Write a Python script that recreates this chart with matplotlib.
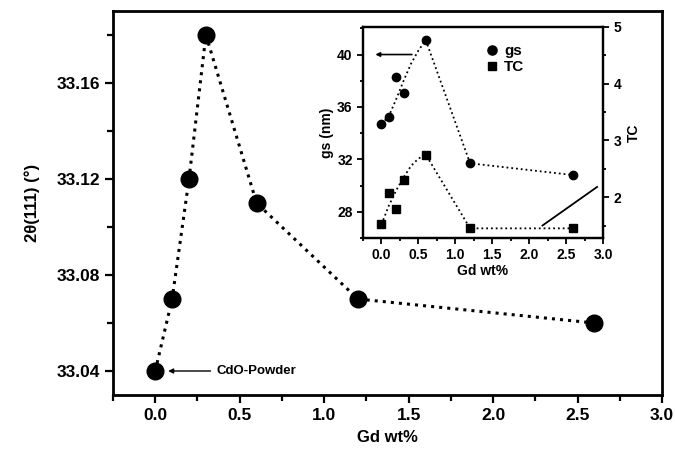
import matplotlib.pyplot as plt
import numpy as np
from matplotlib.ticker import MultipleLocator

plt.rcParams['font.family'] = ['Liberation Sans', 'DejaVu Sans']
plt.rcParams['font.weight'] = 'bold'

# main panel: 2theta(111) vs Gd content
gd = [0.0, 0.1, 0.2, 0.3, 0.6, 1.2, 2.6]
two_theta = [33.04, 33.07, 33.12, 33.18, 33.11, 33.07, 33.06]

# inset: grain size and texture coefficient
gs = [34.7, 35.2, 38.3, 37.1, 41.1, 31.7, 30.8]
tc = [1.52, 2.08, 1.80, 2.30, 2.75, 1.45, 1.45]

# guide lines drawn through the inset
gs_guide_x = [0.0, 0.1, 0.2, 0.3, 0.4, 0.5, 0.6, 1.2, 2.6]
gs_guide = [34.7, 35.3, 36.6, 38.0, 39.3, 40.3, 41.1, 31.7, 30.8]
tc_guide_x = [0.0, 0.1, 0.2, 0.3, 0.4, 0.5, 0.6, 1.2, 2.6]
tc_guide = [1.52, 1.85, 2.12, 2.35, 2.55, 2.68, 2.75, 1.45, 1.45]

fig = plt.figure(figsize=(6.75, 4.5), dpi=100)
ax = fig.add_axes([113 / 675, 1 - 395 / 450, (662 - 113) / 675, (395 - 11) / 450])

ax.plot(gd, two_theta, ':', color='black', lw=2.2)
ax.plot(gd, two_theta, 'o', color='black', ms=12, ls='none')
ax.set_xlim(-0.25, 3.0)
ax.set_ylim(33.03, 33.19)
ax.xaxis.set_major_locator(MultipleLocator(0.5))
ax.xaxis.set_minor_locator(MultipleLocator(0.25))
ax.yaxis.set_major_locator(MultipleLocator(0.04))
ax.yaxis.set_minor_locator(MultipleLocator(0.02))
ax.yaxis.set_major_formatter(plt.FormatStrFormatter('%.2f'))
ax.tick_params(which='both', direction='out', width=1.6, labelsize=12.5)
ax.tick_params(which='major', length=6)
ax.tick_params(which='minor', length=4)
for s in ax.spines.values():
    s.set_linewidth(2)
ax.set_xlabel('Gd wt%', fontsize=12, fontweight='bold', labelpad=5)
ax.set_ylabel('2θ(111) (°)', fontsize=12, fontweight='bold', labelpad=12)

ax.annotate('CdO-Powder', xy=(0.06, 33.04), xytext=(0.36, 33.04),
            fontsize=9.5, fontweight='bold', va='center',
            arrowprops=dict(arrowstyle='-|>', color='black', lw=1, mutation_scale=7))

# inset
ins = fig.add_axes([363 / 675, 1 - 238 / 450, (603 - 363) / 675, (238 - 27) / 450])
ins.plot(gs_guide_x, gs_guide, ':', color='black', lw=1.3)
l1, = ins.plot(gd, gs, 'o', color='black', ms=6, ls='none', label='gs')
ins.set_xlim(-0.25, 3.0)
ins.set_ylim(26.0, 42.1)
ins.xaxis.set_major_locator(MultipleLocator(0.5))
ins.xaxis.set_minor_locator(MultipleLocator(0.25))
ins.yaxis.set_major_locator(MultipleLocator(4))
ins.yaxis.set_minor_locator(MultipleLocator(2))
ins.tick_params(which='both', direction='out', width=1.3, labelsize=10)
ins.tick_params(which='major', length=4)
ins.tick_params(which='minor', length=2.5)
ins.set_xlabel('Gd wt%', fontsize=10, fontweight='bold', labelpad=1)
ins.set_ylabel('gs (nm)', fontsize=10, fontweight='bold', labelpad=2)
for s in ins.spines.values():
    s.set_linewidth(1.6)

tw = ins.twinx()
tw.plot(tc_guide_x, tc_guide, ':', color='black', lw=1.3)
l2, = tw.plot(gd, tc, 's', color='black', ms=5.5, ls='none', label='TC')
tw.set_ylim(1.28, 5.0)
tw.yaxis.set_major_locator(MultipleLocator(1))
tw.yaxis.set_minor_locator(MultipleLocator(0.5))
tw.tick_params(which='both', direction='out', width=1.3, labelsize=10)
tw.tick_params(which='major', length=4)
tw.tick_params(which='minor', length=2.5)
tw.set_ylabel('TC', fontsize=10, fontweight='bold', labelpad=4)
for s in tw.spines.values():
    s.set_linewidth(1.6)

ins.annotate('', xy=(-0.12, 40.0), xytext=(0.45, 40.0),
             arrowprops=dict(arrowstyle='-|>', color='black', lw=1.2, mutation_scale=6))
tw.plot([2.18, 2.92], [1.5, 2.18], '-', color='black', lw=1.3)

ins.legend(handles=[l1, l2], loc='upper left', bbox_to_anchor=(0.46, 0.97),
           frameon=False, fontsize=11, handletextpad=0.3, labelspacing=0.15,
           handlelength=1.0, borderpad=0.2, markerscale=1.1)

fig.savefig('out.png', dpi=100)
